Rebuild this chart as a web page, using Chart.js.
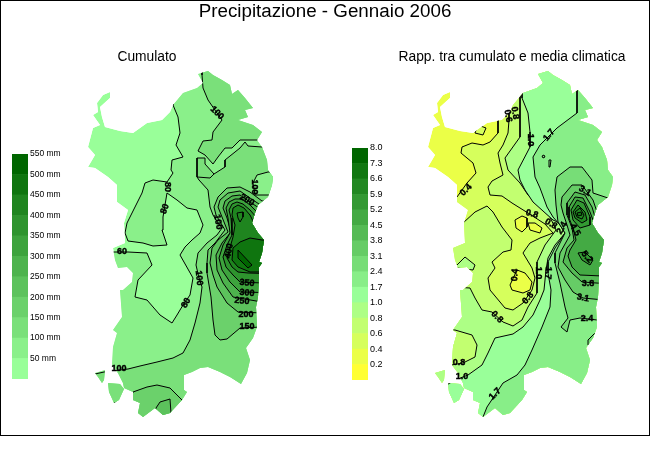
<!DOCTYPE html>
<html lang="en">

<head>
    <meta charset="UTF-8">
    <title>Precipitazione - Gennaio 2006</title>
    <script src="https://cdn.jsdelivr.net/npm/chart.js"></script>
    <style>
        body { margin: 0; background: #fff; font-family: "Liberation Sans", sans-serif; }
        #frame { position: absolute; left: 0; top: 0; width: 648px; height: 434px; border: 1px solid #000; }
        .txt { position: absolute; text-align: center; color: #000; white-space: nowrap; }
        canvas { position: absolute; }
    </style>
</head>

<body>
    <div id="frame"></div>
    <canvas id="maps" width="650" height="450" style="left:0;top:0"></canvas>
    <canvas id="legendCum" width="80" height="245" style="left:12px;top:144px"></canvas>
    <canvas id="legendRapp" width="60" height="252" style="left:352px;top:138px"></canvas>
    <div class="txt" style="left:0;top:0;width:650px;font-size:18.8px">Precipitazione - Gennaio 2006</div>
    <div class="txt" style="left:47px;top:49px;width:200px;font-size:13.8px">Cumulato</div>
    <div class="txt" style="left:362px;top:49px;width:300px;font-size:13.8px">Rapp. tra cumulato e media climatica</div>

    <script>
        // legend bands, read bottom to top
        const cumTicks = [50, 100, 150, 200, 250, 300, 350, 400, 450, 500, 550];
        const cumBands = [50, 50, 50, 50, 50, 50, 50, 50, 50, 50, 50];
        const cumColors = ['#99ff99', '#8af08a', '#7ae07a', '#6bd16b', '#5cc25c', '#4db34d', '#3da33d', '#2e942e', '#1f851f', '#0f750f', '#006600'];
        const rappTicks = ['0.2', '0.4', '0.6', '0.8', '1.0', '1.7', '2.4', '3.1', '3.8', '4.5', '5.2', '5.9', '6.6', '7.3', '8.0'];
        const rappBands = [1, 1, 1, 1, 1, 1, 1, 1, 1, 1, 1, 1, 1, 1, 1];
        const rappColors = ['#ffff33', '#ebff47', '#d6ff5c', '#c2ff70', '#adff85', '#99ff99', '#88ee88', '#77dd77', '#66cc66', '#55bb55', '#44aa44', '#339933', '#228822', '#117711', '#006600'];

        // coast of Sardinia in map units
        const coast = [[198, 74], [208, 71], [213, 75], [222, 80], [230, 85], [232, 94], [238, 90], [245, 98], [253, 108], [245, 110], [248, 117], [238, 120], [253, 125], [262, 132], [257, 140], [262, 147], [267, 160], [268, 170], [273, 177], [272, 185], [268, 197], [258, 205], [255, 213], [252, 223], [258, 233], [264, 240], [262, 253], [259, 262], [262, 263], [259, 267], [259, 277], [258, 297], [256, 307], [257, 327], [253, 338], [246, 348], [250, 360], [247, 373], [241, 384], [230, 377], [220, 372], [208, 367], [200, 368], [192, 372], [184, 375], [184, 390], [187, 392], [182, 400], [170, 413], [163, 415], [155, 408], [143, 417], [138, 413], [140, 403], [133, 400], [133, 392], [124, 388], [123, 383], [118, 373], [112, 365], [113, 347], [117, 333], [113, 330], [122, 317], [120, 290], [123, 290], [132, 282], [133, 273], [127, 267], [118, 268], [115, 260], [113, 248], [125, 243], [124, 223], [128, 210], [117, 202], [117, 185], [108, 177], [95, 168], [88, 167], [95, 155], [88, 147], [93, 128], [100, 125], [93, 115], [98, 112], [97, 103], [103, 95], [110, 92], [110, 98], [100, 107], [102, 117], [105, 127], [120, 131], [133, 133], [147, 123], [162, 120], [170, 112], [173, 105], [183, 93], [197, 88], [203, 83]];
        const sanPietro = [[95, 373], [105, 370], [104, 380], [102, 383], [98, 377]];
        const santAntioco = [[108, 383], [120, 384], [124, 389], [119, 400], [114, 403], [109, 392]];

        // Cumulato: contour areas, lowest first
        const cumWest = [[173, 60], [173, 105], [178, 117], [180, 133], [176, 145], [183, 157], [172, 160], [171, 170], [173, 173], [167, 182], [153, 180], [145, 183], [142, 193], [135, 207], [127, 223], [125, 233], [128, 241], [143, 243], [153, 246], [167, 245], [162, 230], [163, 217], [165, 205], [167, 193], [177, 200], [187, 208], [197, 210], [203, 225], [200, 233], [192, 240], [185, 247], [180, 255], [193, 278], [190, 295], [183, 305], [177, 315], [172, 323], [160, 315], [147, 300], [135, 297], [138, 280], [152, 265], [147, 253], [128, 252], [85, 252], [85, 430], [285, 430], [285, 60]];
        const cumNorth = [[202, 60], [202, 75], [203, 88], [208, 100], [217, 113], [222, 120], [213, 132], [212, 140], [203, 141], [198, 151], [205, 155], [213, 164], [218, 157], [225, 148], [232, 148], [240, 140], [290, 140], [290, 60]];
        const cumSouth = [[262, 147], [248, 146], [245, 142], [240, 148], [225, 160], [225, 167], [214, 174], [205, 164], [205, 158], [197, 158], [197, 177], [199, 180], [208, 190], [210, 207], [213, 215], [218, 223], [222, 228], [217, 235], [207, 243], [198, 253], [196, 265], [199, 278], [202, 287], [200, 303], [195, 323], [190, 340], [183, 353], [173, 358], [157, 362], [140, 366], [128, 369], [104, 372], [95, 374], [85, 376], [85, 430], [290, 430], [290, 147]];
        const cumEastPocket = [[285, 172], [268, 172], [257, 175], [253, 183], [255, 195], [268, 195], [285, 195]];
        const cum150 = [[262, 201], [250, 192], [240, 187], [227, 188], [218, 197], [214, 207], [216, 215], [225, 230], [215, 243], [208, 250], [207, 263], [207, 273], [211, 297], [213, 320], [215, 335], [220, 340], [227, 339], [240, 328], [262, 327], [285, 327], [285, 201]];
        const cum200 = [[262, 206], [250, 198], [240, 191], [228, 193], [220, 200], [218, 207], [222, 217], [228, 232], [218, 240], [212, 248], [210, 263], [213, 275], [217, 287], [227, 303], [238, 312], [262, 313], [285, 313], [285, 206]];
        const cum250 = [[262, 210], [250, 202], [240, 195], [232, 196], [225, 201], [223, 208], [227, 218], [231, 232], [222, 243], [216, 255], [217, 270], [223, 283], [233, 297], [262, 302], [285, 303], [285, 210]];
        const cum300 = [[262, 215], [258, 213], [250, 205], [242, 199], [235, 199], [229, 202], [226, 208], [228, 218], [230, 233], [223, 245], [219, 258], [222, 270], [230, 282], [240, 292], [285, 293], [285, 215]];
        const cum350 = [[262, 222], [257, 218], [250, 210], [243, 204], [237, 202], [232, 204], [229, 210], [231, 218], [232, 235], [227, 245], [223, 257], [226, 267], [233, 275], [240, 282], [285, 284], [285, 222]];
        const cum400 = [[262, 232], [255, 225], [250, 215], [244, 208], [238, 205], [233, 208], [232, 215], [235, 225], [233, 237], [227, 258], [232, 267], [238, 272], [248, 273], [285, 274], [285, 232]];
        const cumPeakNorth = [[237, 213], [243, 212], [243, 217], [240, 222], [238, 218]];
        const cum450 = [[233, 248], [240, 242], [250, 238], [262, 240], [285, 240], [285, 272], [250, 272], [238, 267], [232, 260]];
        const cum500 = [[238, 250], [252, 265], [248, 268], [238, 258]];
        const cumSouthWest = [[133, 392], [147, 387], [157, 385], [170, 388], [177, 395], [182, 400], [200, 425], [120, 425]];
        const cumSouthPeak = [[156, 408], [160, 402], [170, 399], [171, 413], [172, 425], [150, 425]];
        const cumLoop = [[197, 177], [210, 178], [214, 174]];
        const cumAntiocoTick = [[114, 403], [118, 402]];

        // Rapporto: contour areas, lowest first
        const rapp04 = [[497, 60], [498, 120], [498, 133], [490, 142], [483, 145], [472, 143], [462, 147], [461, 153], [473, 163], [476, 173], [467, 183], [457, 197], [420, 205], [420, 430], [640, 430], [640, 60]];
        const rappNorthPocket = [[475, 133], [483, 135], [486, 128], [478, 125]];
        const rapp06 = [[509, 60], [509, 120], [508, 133], [503, 145], [498, 153], [500, 163], [503, 175], [492, 181], [488, 187], [490, 195], [502, 196], [512, 203], [528, 213], [545, 224], [553, 233], [540, 238], [530, 243], [525, 250], [523, 253], [532, 268], [535, 278], [532, 290], [523, 303], [513, 310], [505, 308], [500, 302], [490, 290], [488, 278], [495, 268], [492, 262], [503, 252], [511, 250], [512, 240], [502, 227], [493, 212], [487, 206], [475, 212], [463, 223], [420, 235], [420, 430], [640, 430], [640, 60]];
        const rappBlobA = [[515, 220], [522, 216], [527, 218], [527, 227], [522, 232], [516, 228]];
        const rappBlobB = [[528, 223], [535, 223], [542, 228], [540, 233], [530, 230]];
        const rappBlobC = [[517, 270], [525, 273], [532, 282], [530, 290], [523, 293], [512, 290], [510, 285]];
        const rappPocketMid = [[450, 268], [457, 265], [465, 257], [475, 265], [473, 270], [457, 268]];
        const rapp08 = [[520, 60], [520, 120], [520, 137], [505, 158], [508, 170], [520, 183], [528, 195], [542, 208], [550, 217], [556, 230], [545, 245], [537, 262], [537, 293], [528, 307], [522, 320], [513, 326], [503, 322], [492, 312], [482, 310], [475, 298], [470, 288], [420, 285], [420, 430], [640, 430], [640, 60]];
        const rappPocketWest = [[440, 330], [455, 330], [472, 335], [477, 345], [475, 357], [463, 363], [440, 367]];
        const rapp10 = [[522, 60], [522, 98], [528, 113], [530, 132], [530, 147], [518, 170], [520, 180], [525, 190], [533, 202], [553, 220], [562, 224], [566, 232], [555, 245], [548, 258], [546, 270], [544, 290], [540, 300], [533, 315], [523, 327], [513, 334], [495, 338], [488, 353], [482, 365], [468, 375], [455, 380], [445, 386], [420, 390], [420, 430], [640, 430], [640, 60]];
        const rapp17 = [[577, 60], [577, 98], [577, 113], [557, 128], [540, 145], [533, 157], [535, 177], [540, 188], [547, 207], [553, 217], [560, 225], [565, 233], [555, 248], [548, 262], [548, 273], [551, 290], [550, 307], [542, 327], [532, 350], [525, 365], [517, 375], [503, 383], [495, 395], [487, 407], [483, 417], [480, 430], [640, 430], [640, 60]];
        const rappDotA = [[542, 156], [544, 155], [545, 157], [543, 158]];
        const rappDotB = [[549, 160], [551, 160], [550, 167], [549, 167]];
        const rapp24 = [[625, 198], [608, 198], [593, 193], [592, 180], [582, 167], [570, 167], [557, 177], [555, 190], [556, 205], [558, 222], [565, 233], [555, 253], [555, 263], [560, 283], [565, 307], [568, 318], [561, 327], [567, 332], [570, 320], [580, 318], [597, 320], [625, 320]];
        const rappSouthEast = [[588, 345], [588, 340], [595, 333], [625, 333], [625, 345]];
        const rapp31 = [[625, 215], [597, 212], [593, 200], [582, 185], [572, 185], [562, 197], [561, 205], [563, 213], [567, 225], [570, 235], [560, 253], [558, 267], [565, 280], [573, 292], [583, 298], [625, 302]];
        const rapp38 = [[625, 220], [595, 217], [592, 207], [585, 195], [575, 192], [567, 203], [567, 215], [572, 228], [574, 240], [567, 248], [563, 262], [572, 273], [582, 282], [625, 285]];
        const rapp45 = [[625, 222], [593, 220], [590, 212], [583, 198], [575, 197], [569, 207], [569, 218], [573, 228], [576, 240], [570, 250], [568, 256], [572, 267], [580, 275], [625, 277]];
        const rapp52South = [[578, 253], [585, 252], [593, 260], [590, 265], [582, 260]];
        const rapp52 = [[571, 210], [577, 200], [584, 203], [590, 217], [590, 225], [580, 228], [573, 220]];
        const rapp59 = [[573, 212], [578, 205], [585, 212], [587, 220], [582, 223], [575, 218]];
        const rapp66 = [[575, 212], [580, 208], [584, 215], [582, 219], [577, 217]];
        const rapp73 = [[577, 213], [581, 212], [582, 215], [578, 216]];

        // contour labels: text, x, y, rotation in degrees
        const contourLabels = [
            ['100', 217, 113, 45], ['80', 167, 187, 90], ['80', 165, 209, -70], ['100', 254, 187, 90], ['200', 247, 200, 30],
            ['100', 218, 222, 80], ['400', 229, 251, -80], ['350', 247, 283, 5], ['300', 247, 293, 5], ['250', 242, 301, 5],
            ['200', 246, 315, 0], ['150', 247, 327, 0], ['100', 119, 369, 0], ['60', 122, 252, 0], ['100', 199, 278, 85], ['80', 186, 303, -60],
            ['0.8', 515, 113, 80], ['0.6', 508, 116, 80], ['1.0', 530, 140, 90], ['1.7', 549, 135, -50], ['0.4', 466, 190, -45], ['3.1', 585, 191, 30],
            ['0.8', 532, 214, 15], ['0.8', 551, 224, 30], ['2.4', 562, 228, -60], ['4.5', 575, 230, 60], ['5.2', 587, 257, 50],
            ['3.8', 588, 284, 0], ['3.1', 583, 298, 10], ['2.4', 587, 319, 0], ['0.4', 515, 275, -85], ['0.8', 528, 298, -50],
            ['1.0', 538, 273, 90], ['1.7', 548, 273, 95], ['0.8', 459, 363, 0], ['0.8', 497, 317, 45], ['1.0', 462, 377, 0], ['1.7', 495, 394, -45]
        ];

        const shiftRight = pts => pts.map(([x, y]) => [x + 340, y]);
        const lands = [coast, sanPietro, santAntioco, shiftRight(coast), shiftRight(sanPietro), shiftRight(santAntioco)];

        function area(pts, color, outlined = true) {
            return {
                data: pts.concat([pts[0]]).map(([x, y]) => ({ x, y })),
                showLine: true,
                fill: 'shape',
                backgroundColor: color,
                borderColor: outlined ? '#000' : color,
                borderWidth: outlined ? 1 : 0,
                pointRadius: 0,
                tension: 0
            };
        }

        function line(pts) {
            return {
                data: pts.map(([x, y]) => ({ x, y })),
                showLine: true,
                fill: false,
                borderColor: '#000',
                borderWidth: 1,
                pointRadius: 0,
                tension: 0
            };
        }

        const layers = [
            ...lands.slice(0, 3).map(p => area(p, cumColors[0], false)),
            area(cumWest, cumColors[1]),
            area(cumNorth, cumColors[2]),
            area(cumSouth, cumColors[2]),
            area(cumEastPocket, cumColors[1]),
            area(cum150, cumColors[3]),
            area(cum200, cumColors[4]),
            area(cum250, cumColors[5]),
            area(cum300, cumColors[6]),
            area(cum350, cumColors[7]),
            area(cum400, cumColors[8]),
            area(cumPeakNorth, cumColors[8]),
            area(cum450, cumColors[9]),
            area(cum500, cumColors[10]),
            area(cumSouthWest, cumColors[3]),
            area(cumSouthPeak, cumColors[4]),
            line(cumLoop),
            line(cumAntiocoTick),

            ...lands.slice(3).map(p => area(p, rappColors[1], false)),
            area(rapp04, rappColors[2]),
            area(rappNorthPocket, rappColors[2]),
            area(rapp06, rappColors[3]),
            area(rappBlobA, rappColors[1]),
            area(rappBlobB, rappColors[1]),
            area(rappBlobC, rappColors[1]),
            area(rappPocketMid, rappColors[4]),
            area(rapp08, rappColors[4]),
            area(rappPocketWest, rappColors[3]),
            area(rapp10, rappColors[5]),
            area(rapp17, rappColors[6]),
            area(rappDotA, rappColors[6]),
            area(rappDotB, rappColors[6]),
            area(rapp24, rappColors[7]),
            area(rappSouthEast, rappColors[7]),
            area(rapp31, rappColors[8]),
            area(rapp38, rappColors[9]),
            area(rapp45, rappColors[10]),
            area(rapp52South, rappColors[11]),
            area(rapp52, rappColors[11]),
            area(rapp59, rappColors[12]),
            area(rapp66, rappColors[12]),
            area(rapp73, rappColors[13])
        ];
        // later layers have to end up on top
        layers.forEach((d, i) => { d.order = -i; });

        // keep the contour areas inside the coast, then write the labels on top
        const coastClip = {
            id: 'coastClip',
            beforeDatasetsDraw(chart) {
                const { ctx, scales: { x, y } } = chart;
                ctx.save();
                ctx.beginPath();
                lands.forEach(pts => {
                    pts.forEach(([px, py], i) => {
                        const sx = x.getPixelForValue(px), sy = y.getPixelForValue(py);
                        if (i === 0) ctx.moveTo(sx, sy); else ctx.lineTo(sx, sy);
                    });
                    ctx.closePath();
                });
                ctx.clip();
            },
            afterDatasetsDraw(chart) {
                const { ctx, scales: { x, y } } = chart;
                ctx.restore();
                ctx.fillStyle = '#000';
                ctx.strokeStyle = '#000';
                ctx.lineWidth = 0.4;
                ctx.font = 'bold 9px "Liberation Sans"';
                ctx.textAlign = 'center';
                ctx.textBaseline = 'middle';
                contourLabels.forEach(([text, px, py, rot]) => {
                    ctx.save();
                    ctx.translate(x.getPixelForValue(px), y.getPixelForValue(py));
                    ctx.rotate(rot * Math.PI / 180);
                    ctx.fillText(text, 0, 0);
                    ctx.strokeText(text, 0, 0);
                    ctx.restore();
                });
            }
        };

        new Chart(document.getElementById('maps'), {
            type: 'scatter',
            data: { datasets: layers },
            options: {
                responsive: false,
                animation: false,
                devicePixelRatio: 1,
                plugins: { legend: { display: false }, tooltip: { enabled: false } },
                scales: {
                    x: { type: 'linear', min: 0, max: 650, display: false },
                    y: { type: 'linear', min: 0, max: 450, reverse: true, display: false }
                }
            },
            plugins: [coastClip]
        });

        function legendBar(id, bands, colors, maxValue, labelFor, fontSize, scaleWidth, pad) {
            new Chart(document.getElementById(id), {
                type: 'bar',
                data: {
                    labels: [''],
                    datasets: bands.map((v, i) => ({ data: [v], backgroundColor: colors[i], barPercentage: 1, categoryPercentage: 1 }))
                },
                options: {
                    responsive: false,
                    animation: false,
                    devicePixelRatio: 1,
                    layout: { padding: { top: pad, bottom: pad } },
                    plugins: { legend: { display: false }, tooltip: { enabled: false } },
                    scales: {
                        x: { stacked: true, display: false },
                        y: {
                            stacked: true,
                            position: 'right',
                            min: 0,
                            max: maxValue,
                            afterFit(scale) { scale.width = scaleWidth; },
                            grid: { display: false, drawTicks: false },
                            border: { display: false },
                            ticks: {
                                stepSize: maxValue / bands.length,
                                autoSkip: false,
                                padding: 2,
                                color: '#000',
                                font: { family: 'Liberation Sans', size: fontSize },
                                callback: labelFor
                            }
                        }
                    }
                }
            });
        }

        legendBar('legendCum', cumBands, cumColors, 550, v => v ? v + ' mm' : '', 8.5, 64, 10);
        legendBar('legendRapp', rappBands, rappColors, 15, v => v ? rappTicks[v - 1] : '', 9, 44, 10);
    </script>
</body>

</html>
